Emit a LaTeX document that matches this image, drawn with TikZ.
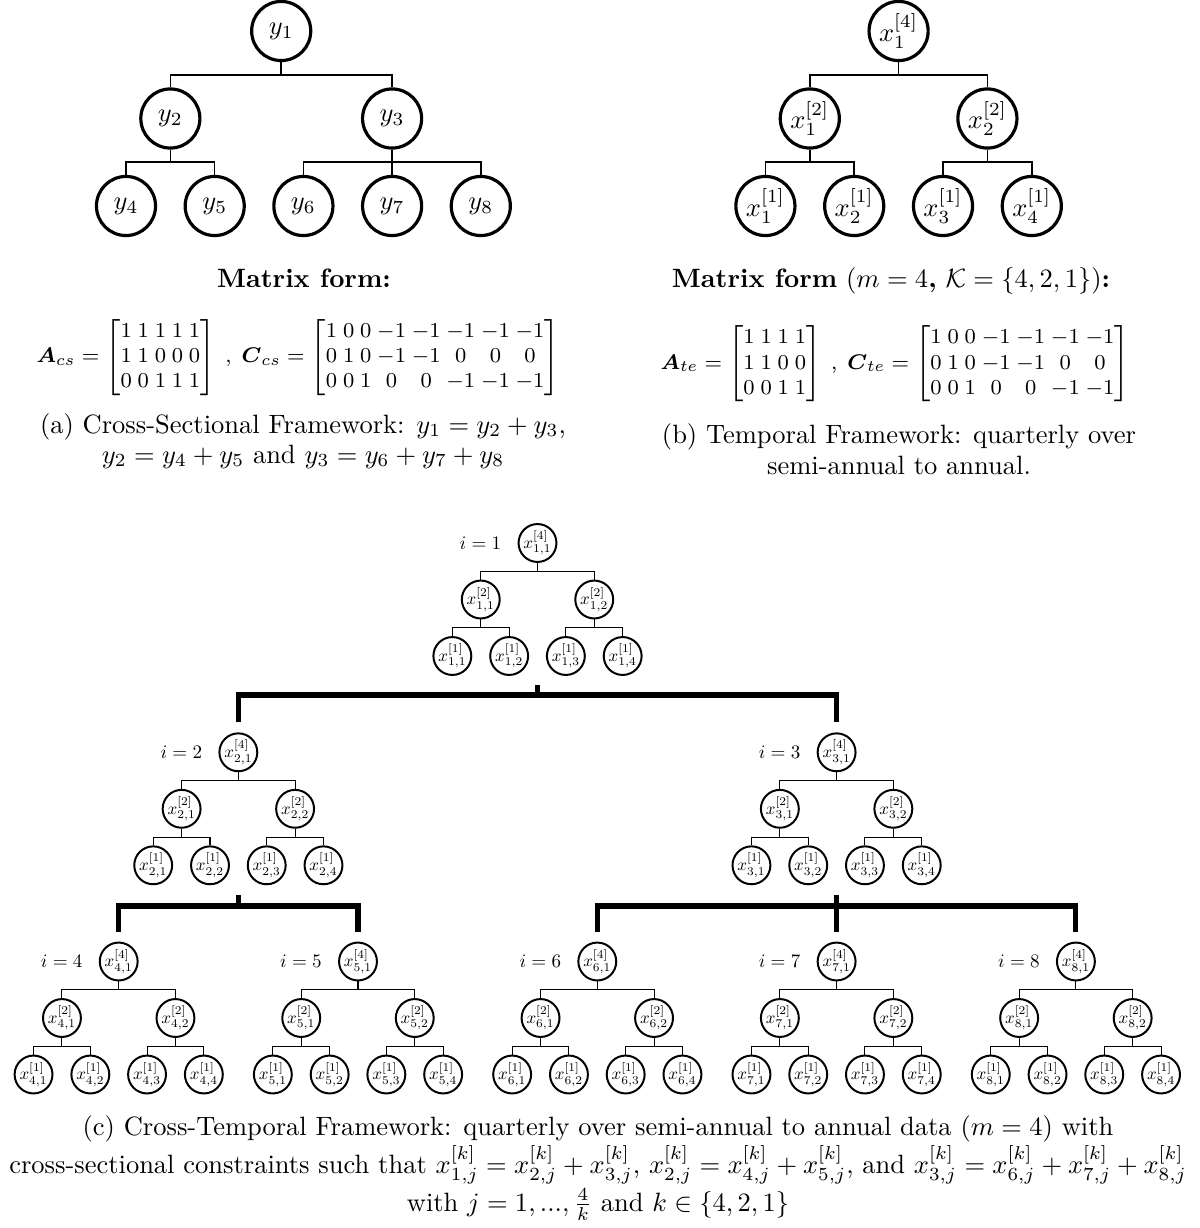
\documentclass[tikz,border=0pt]{standalone}
\usepackage{amsmath,amssymb}
\usepackage{graphicx}
\usetikzlibrary{calc}
\tikzset{
  big/.style={circle, draw, line width=1.2pt, minimum size=22.3pt, inner sep=0pt},
  sm/.style={circle, draw, line width=0.75pt, minimum size=14.3pt, inner sep=0pt},
  bigconn/.style={line width=0.6pt},
  smconn/.style={line width=0.4pt},
  bar/.style={line width=1.9pt},
  lab/.style={inner sep=0pt},
  txt/.style={inner sep=0pt, anchor=base},
}
\newcommand\lnk[3]{\draw[#1] (#2.south) |- ($(#2.south)!0.5!(#3.north)$) -| (#3.north);}
\newcommand\xs[3]{\scalebox{0.64}{$x^{[#1]}_{#2,#3}$}}
\newcommand\crosssub[3]{%
  \node[sm] (n#1) at (#2,#3) {\xs{4}{#1}{1}};
  \node[lab] (l#1) at (#2-57,#3) {\scalebox{0.72}{$i=#1$}};
  \node[sm] (n#1a) at (#2-56.75,#3+56.5) {\xs{2}{#1}{1}};
  \node[sm] (n#1b) at (#2+56.75,#3+56.5) {\xs{2}{#1}{2}};
  \node[sm] (n#1a1) at (#2-85.15,#3+113) {\xs{1}{#1}{1}};
  \node[sm] (n#1a2) at (#2-28.35,#3+113) {\xs{1}{#1}{2}};
  \node[sm] (n#1b1) at (#2+28.35,#3+113) {\xs{1}{#1}{3}};
  \node[sm] (n#1b2) at (#2+85.15,#3+113) {\xs{1}{#1}{4}};
  \lnk{smconn}{n#1}{n#1a}\lnk{smconn}{n#1}{n#1b}
  \lnk{smconn}{n#1a}{n#1a1}\lnk{smconn}{n#1a}{n#1a2}
  \lnk{smconn}{n#1b}{n#1b1}\lnk{smconn}{n#1b}{n#1b2}
}
\begin{document}
\begin{tikzpicture}[x=0.3774pt, y=-0.3774pt]
\useasboundingbox (0,0) rectangle (1199,1228);

% ---- (a) cross-sectional tree
\node[big] (y1) at (281.2,31) {$y_1$};
\node[big] (y2) at (170.35,118.5) {$y_2$};
\node[big] (y3) at (392.1,118.5) {$y_3$};
\node[big] (y4) at (126,206) {$y_4$};
\node[big] (y5) at (214.7,206) {$y_5$};
\node[big] (y6) at (303.4,206) {$y_6$};
\node[big] (y7) at (392.1,206) {$y_7$};
\node[big] (y8) at (480.8,206) {$y_8$};
\lnk{bigconn}{y1}{y2}\lnk{bigconn}{y1}{y3}
\lnk{bigconn}{y2}{y4}\lnk{bigconn}{y2}{y5}
\lnk{bigconn}{y3}{y6}\lnk{bigconn}{y3}{y7}\lnk{bigconn}{y3}{y8}

% ---- (b) temporal tree
\node[big] (t4) at (898.6,31) {$x^{[4]}_1$};
\node[big] (t21) at (809.8,118.5) {$x^{[2]}_1$};
\node[big] (t22) at (987.4,118.5) {$x^{[2]}_2$};
\node[big] (t11) at (765.4,206) {$x^{[1]}_1$};
\node[big] (t12) at (854.2,206) {$x^{[1]}_2$};
\node[big] (t13) at (943.0,206) {$x^{[1]}_3$};
\node[big] (t14) at (1031.8,206) {$x^{[1]}_4$};
\lnk{bigconn}{t4}{t21}\lnk{bigconn}{t4}{t22}
\lnk{bigconn}{t21}{t11}\lnk{bigconn}{t21}{t12}
\lnk{bigconn}{t22}{t13}\lnk{bigconn}{t22}{t14}

% ---- titles, matrices, captions
\node[txt] (ma) at (304,287) {\textbf{Matrix form:}};
\node[txt] (mb) at (891,287) {\textbf{Matrix form} ($m=4$\textbf{,} $\mathcal{K}=\{4,2,1\}$)\textbf{:}};
\node[inner sep=0pt] (ea) at (298,357.5) {\footnotesize\setlength{\arraycolsep}{1.1pt}%
$\boldsymbol{A}_{cs}=\begin{bmatrix}1&1&1&1&1\\1&1&0&0&0\\0&0&1&1&1\end{bmatrix}\;,\;
\boldsymbol{C}_{cs}=\begin{bmatrix}1&0&0&-1&-1&-1&-1&-1\\0&1&0&-1&-1&0&0&0\\0&0&1&0&0&-1&-1&-1\end{bmatrix}$};
\node[inner sep=0pt] (eb) at (895,364) {\footnotesize\setlength{\arraycolsep}{1.1pt}%
$\boldsymbol{A}_{te}=\begin{bmatrix}1&1&1&1\\1&1&0&0\\0&0&1&1\end{bmatrix}\;,\;
\boldsymbol{C}_{te}=\begin{bmatrix}1&0&0&-1&-1&-1&-1\\0&1&0&-1&-1&0&0\\0&0&1&0&0&-1&-1\end{bmatrix}$};
\node[txt] (ca1) at (303,433) {(a) Cross-Sectional Framework: $y_1=y_2+y_3$,};
\node[txt] (ca2) at (303,463) {$y_2=y_4+y_5$ and $y_3=y_6+y_7+y_8$};
\node[txt] (cb1) at (899,443) {(b) Temporal Framework: quarterly over};
\node[txt] (cb2) at (899,474) {semi-annual to annual.};

% ---- (c) cross-temporal tree
\crosssub{1}{537.5}{543}
\crosssub{2}{238.35}{752.3}
\crosssub{3}{836.6}{752.3}
\crosssub{4}{118.7}{961.5}
\crosssub{5}{358}{961.5}
\crosssub{6}{597.3}{961.5}
\crosssub{7}{836.6}{961.5}
\crosssub{8}{1075.9}{961.5}

\coordinate (s1) at (537.5,685); \coordinate (b1) at (537.5,695);
\draw[bar] (s1) -- (b1);
\draw[bar] ([yshift=3.77pt]n2.north) |- (b1) -| ([yshift=3.77pt]n3.north);
\coordinate (s2) at (238.35,895); \coordinate (b2) at (238.35,906);
\draw[bar] (s2) -- (b2);
\draw[bar] ([yshift=3.77pt]n4.north) |- (b2) -| ([yshift=3.77pt]n5.north);
\coordinate (s3) at (836.6,895); \coordinate (b3) at (836.6,906);
\draw[bar] (s3) -- ([yshift=3.77pt]n7.north);
\draw[bar] ([yshift=3.77pt]n6.north) |- (b3) -| ([yshift=3.77pt]n8.north);

\node[txt] (cc1) at (598,1135) {(c) Cross-Temporal Framework: quarterly over semi-annual to annual data ($m=4$) with};
\node[txt] (cc2) at (598,1173) {cross-sectional constraints such that $x^{[k]}_{1,j}=x^{[k]}_{2,j}+x^{[k]}_{3,j}$, $x^{[k]}_{2,j}=x^{[k]}_{4,j}+x^{[k]}_{5,j}$, and $x^{[k]}_{3,j}=x^{[k]}_{6,j}+x^{[k]}_{7,j}+x^{[k]}_{8,j}$};
\node[txt] (cc3) at (598,1211) {with $j=1,...,\frac{4}{k}$ and $k\in\{4,2,1\}$};
\end{tikzpicture}
\end{document}
